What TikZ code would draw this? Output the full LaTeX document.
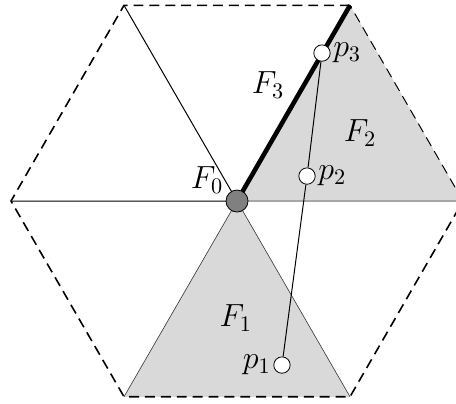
\documentclass[tikz,border=0pt]{standalone}
\usetikzlibrary{positioning}
\begin{document}
\begin{tikzpicture}[
  face/.style={fill=black!15},
  hexedge/.style={dash pattern=on 5pt off 3pt, line width=0.8pt},
  point/.style={circle, draw, fill=white, inner sep=0pt, minimum size=0.29cm},
  lab/.style={font=\Large, scale=1.12, inner sep=1pt}
]
\useasboundingbox[clip] (-4.195,-3.575) rectangle (3.876,3.558);
\coordinate (c) at (0,0);
\foreach \a in {0,60,...,300} \coordinate (v\a) at (\a:4);
% shaded faces
\fill[face] (c) -- (v0) -- (v60) -- cycle;
\fill[face] (c) -- (v240) -- (v300) -- cycle;
% spokes
\draw[black!35, line width=0.6pt] (c) -- (v0);
\draw[black!80, line width=0.3pt] (v240) -- (c) -- (v300);
\draw[line width=0.5pt] (v180) -- (c) -- (v120);
\draw[line width=2.3pt] (c) -- (v60);
% hexagon
\draw[hexedge] (v60) -- (v120) -- (v180) -- (v240) -- (v300) -- (v0);
\draw[hexedge, line width=0.5pt] (v0) -- (v60);
% points
\node[circle, draw, fill=black!50, inner sep=0pt, minimum size=0.39cm] (f0) at (c) {};
\node[point] (p3) at (1.504,2.619) {};
\node[point] (p2) at (1.239,0.442) {};
\node[point] (p1) at (0.796,-2.903) {};
\draw[line width=0.5pt] (p1) -- (p2) -- (p3);
% labels
\node[lab, right=0pt of p3] (lp3) {$p_3$};
\node[lab, right=0pt of p2] (lp2) {$p_2$};
\node[lab, left=0pt of p1] (lp1) {$p_1$};
\node[lab] (lf0) at (-0.53,0.37) {$F_0$};
\node[lab] (lf1) at (-0.02,-2.07) {$F_1$};
\node[lab] (lf2) at (2.18,1.20) {$F_2$};
\node[lab] (lf3) at (0.55,2.05) {$F_3$};
\end{tikzpicture}
\end{document}
